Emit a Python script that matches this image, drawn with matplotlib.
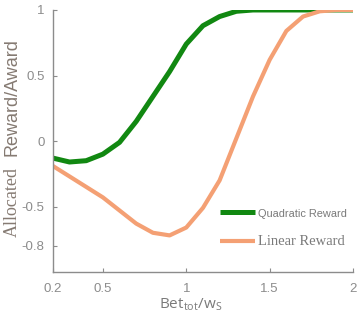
import matplotlib
matplotlib.use('Agg')
from matplotlib import pyplot as plt

# bet ratio samples and allocated reward for each scheme
bet_ratio = [0.2, 0.3, 0.4, 0.5, 0.6, 0.7, 0.8, 0.9, 1.0, 1.1,
             1.2, 1.3, 1.4, 1.5, 1.6, 1.7, 1.8, 1.9, 2.0]
quadratic = [-0.13, -0.16, -0.15, -0.10, -0.01, 0.15, 0.34, 0.53, 0.74, 0.88,
             0.95, 0.99, 1.0, 1.0, 1.0, 1.0, 1.0, 1.0, 1.0]
linear = [-0.19, -0.27, -0.35, -0.43, -0.53, -0.63, -0.70, -0.72, -0.66, -0.51,
          -0.30, 0.02, 0.34, 0.62, 0.84, 0.95, 0.99, 1.0, 1.0]

x_ticks = [0.2, 0.5, 1, 1.5, 2]
x_tick_labels = ['0.2', '0.5', '1', '1.5', '2']
y_ticks = [-0.8, -0.5, 0, 0.5, 1]
y_tick_labels = ['-0.8', '-0.5', '0', '0.5', '1']

grey = '#8c8c8c'
label_grey = '#857a72'

fig = plt.figure(figsize=(3.57, 3.22), dpi=100)
ax = fig.add_axes([0.148, 0.155, 0.841, 0.814])

ax.plot(bet_ratio, quadratic, color='#118811', linewidth=3.6,
        label='Quadratic Reward', solid_capstyle='butt')
ax.plot(bet_ratio, linear, color='#f4a074', linewidth=3.0,
        label='Linear Reward', solid_capstyle='butt')

ax.set_xlim(0.2, 2)
ax.set_ylim(-1, 1)
ax.set_xticks(x_ticks)
ax.set_xticklabels(x_tick_labels)
ax.set_yticks(y_ticks)
ax.set_yticklabels(y_tick_labels)

for side in ('top', 'right'):
    ax.spines[side].set_visible(False)
for side in ('left', 'bottom'):
    ax.spines[side].set_color(grey)
    ax.spines[side].set_linewidth(1.0)

ax.tick_params(direction='in', length=3, color=grey, labelcolor=grey,
               labelsize=9.5)
ax.tick_params(axis='y', pad=6)
ax.tick_params(axis='x', pad=8)
for lbl in ax.get_xticklabels() + ax.get_yticklabels():
    lbl.set_family('Liberation Sans')

leg = ax.legend(loc='center left', bbox_to_anchor=(0.557, 0.168), frameon=False,
                borderpad=0, borderaxespad=0,
                handlelength=2.8, handletextpad=0.25, labelspacing=1.3,
                fontsize=9)
for txt, fam, size in zip(leg.get_texts(), ['Liberation Sans', 'Liberation Serif'], [7.9, 10.5]):
    txt.set_color('#7a7a7a')
    txt.set_family(fam)
    txt.set_fontsize(size)

# x label with subscripts
fig.text(0.535, 0.053, r'Bet$_{\mathregular{tot}}$/w$_{\mathregular{S}}$',
         ha='center', va='center', fontsize=11, color='#7a7a7a',
         family='Open Sans')

# y label: mixed serif/sans as in the original
fig.text(0.034, 0.372, 'Allocated', rotation=90, ha='center', va='center',
         fontsize=13, color=label_grey, family='Liberation Serif')
fig.text(0.034, 0.70, 'Reward/Award', rotation=90, ha='center', va='center',
         fontsize=13, color=label_grey, family='Liberation Sans')

fig.savefig('out.png', dpi=100)
